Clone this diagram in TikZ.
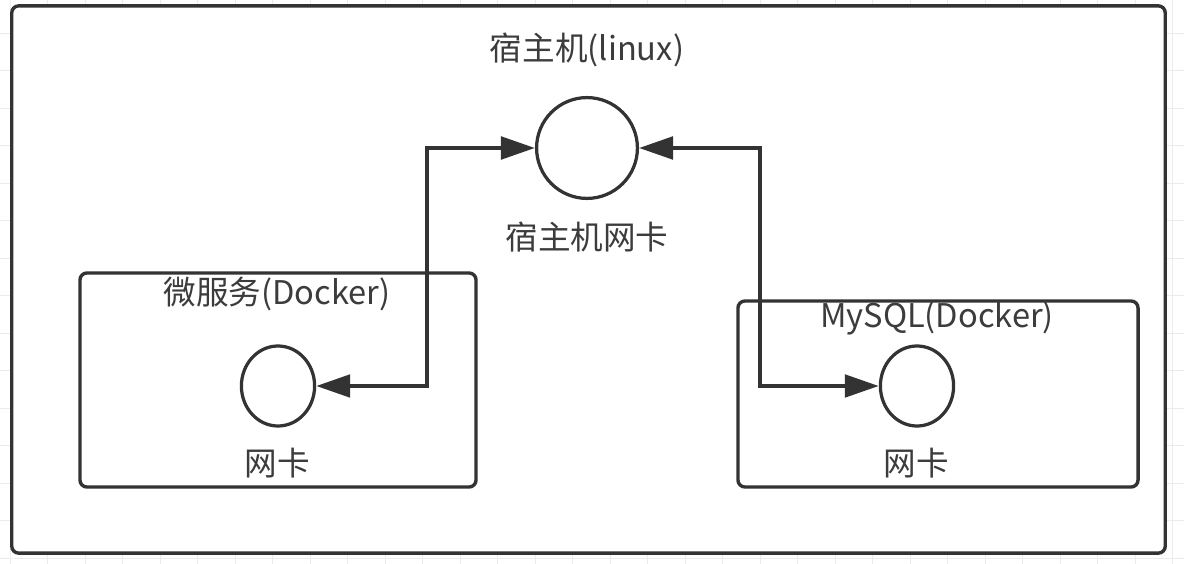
\documentclass[tikz,border=0pt]{standalone}
\usepackage{fontspec}
\setmainfont{Noto Sans CJK SC}
\usetikzlibrary{arrows.meta, shapes.geometric}
\definecolor{cink}{HTML}{333333}
\definecolor{ctext}{HTML}{3C3C3C}
\definecolor{cgrid}{HTML}{EBEBEB}

\begin{document}
\begin{tikzpicture}[
  x=0.025cm, y=-0.025cm,
  hostbox/.style={
    rectangle, rounded corners=5pt, draw=cink, fill=white,
    line width=2.4pt, inner sep=0pt
  },
  dockbox/.style={
    rectangle, rounded corners=5pt, draw=cink, fill=white,
    line width=2.4pt, inner sep=0pt
  },
  nic/.style={
    ellipse, draw=cink, line width=2.3pt, inner sep=0pt,
    minimum width=1.83cm, minimum height=2.0cm
  },
  hostnic/.style={
    circle, draw=cink, line width=2.3pt, inner sep=0pt,
    minimum size=2.52cm
  },
  lbl/.style={ctext, font=\fontsize{23.2}{27}\selectfont, inner sep=0pt},
  link/.style={{Triangle[length=0.85cm, width=0.56cm]}-{Triangle[length=0.85cm, width=0.56cm]},
    draw=cink, line width=2.9pt},
  gridline/.style={draw=cgrid, line width=0.6pt}
]
\useasboundingbox (0,0) rectangle (1184,564);

% faint canvas grid
\foreach \i in {0,...,31} {
  \draw[gridline] (10+37.5*\i, 0) -- (10+37.5*\i, 564);
}
\foreach \j in {0,...,14} {
  \draw[gridline] (0, 33+37.5*\j) -- (1184, 33+37.5*\j);
}

% ============================================================
% host machine
\node[hostbox, minimum width=28.83cm, minimum height=13.68cm] (host) at (588.5, 279.5) {};
\node[lbl] (hosttitle) at (587, 50) {宿主机(linux)};
\node[hostnic] (hnic) at (587, 148) {};
\node[lbl] (hnictext) at (587, 237) {宿主机网卡};

% micro-service container (left)
\node[dockbox, minimum width=9.9cm, minimum height=5.35cm] (svc) at (278, 380) {};
\node[lbl] (svctitle) at (277, 294) {微服务(Docker)};
\node[nic] (snic) at (278, 386) {};
\node[lbl] (snictext) at (277, 463) {网卡};

% MySQL container (right)
\node[dockbox, minimum width=10.0cm, minimum height=4.65cm] (db) at (938, 394) {};
\node[lbl] (dbtitle) at (937, 318) {MySQL(Docker)};
\node[nic] (dnic) at (917, 386) {};
\node[lbl] (dnictext) at (916, 463) {网卡};

% ============================================================
% bridge connections between host NIC and container NICs
\coordinate (jL) at (427, 148);
\coordinate (jR) at (760, 148);
\draw[link] (hnic.west) -- (jL) |- (snic.east);
\draw[link] (hnic.east) -- (jR) |- (dnic.west);

\end{tikzpicture}
\end{document}
